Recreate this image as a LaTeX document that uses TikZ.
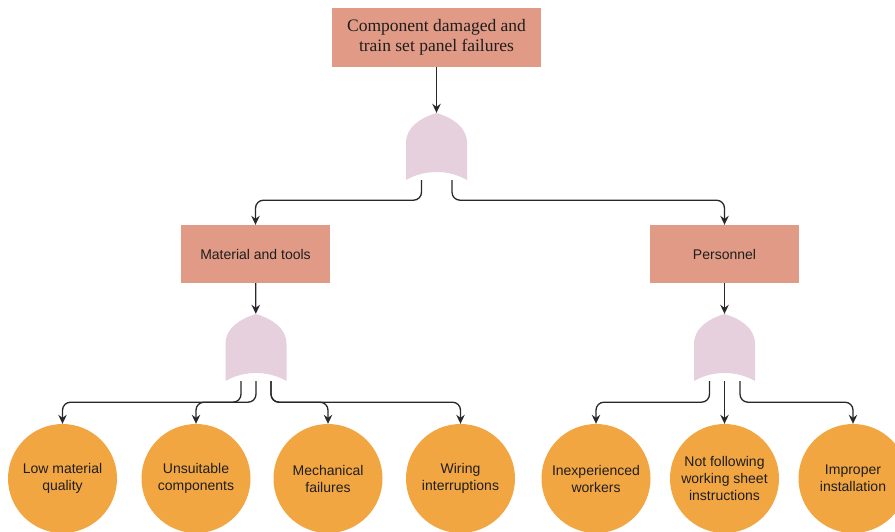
\documentclass[tikz,border=0pt]{standalone}
\usepackage{fontspec}
\setmainfont{Liberation Sans}
\newfontfamily\serifx{Liberation Serif}
\usetikzlibrary{arrows.meta,calc}
\definecolor{boxred}{RGB}{224,154,133}
\definecolor{gatepink}{RGB}{230,208,222}
\definecolor{circorange}{RGB}{242,166,66}
\definecolor{linegray}{RGB}{40,40,40}
\definecolor{txt}{RGB}{30,30,30}
\tikzset{
 evbox/.style={fill=boxred, draw=none, minimum width=149pt, minimum height=58pt, inner sep=0pt, font=\fontsize{14}{17}\selectfont, text=txt, align=center},
 gatebox/.style={minimum width=61pt, minimum height=67pt, inner sep=0pt},
 gatefill/.style={fill=gatepink},
 basic/.style={circle, fill=circorange, minimum size=109pt, inner sep=0pt, align=center, font=\fontsize{14}{17}\selectfont, text=txt},
 conn/.style={draw=linegray, line width=1.3pt, rounded corners=8pt, -{Stealth[length=9pt,width=8.5pt,inset=3pt]}}
}
\newcommand\orgate[3]{%
 \node[gatebox] (#1) at (#2,#3) {};
 \fill[gatefill] (#2-30.5,#3+33.5) -- (#2-30.5,#3-3.5) .. controls (#2-30.5,#3-20) and (#2-15,#3-29) .. (#2,#3-33.5) .. controls (#2+15,#3-29) and (#2+30.5,#3-20) .. (#2+30.5,#3-3.5) -- (#2+30.5,#3+33.5) .. controls (#2+12,#3+22.8) and (#2-12,#3+22.8) .. cycle;
}
\begin{document}
\begin{tikzpicture}[x=1pt,y=-1pt]
\clip (0,0) rectangle (895,531);
\node[evbox, minimum width=209pt, minimum height=59pt, font=\serifx\fontsize{17.5}{20}\selectfont] (top) at (436.5,37.5) {Component damaged and\\train set panel failures};
\orgate{g0}{436.5}{146.5}
\node[evbox] (mat) at (255.5,254) {Material and tools};
\node[evbox] (per) at (724.5,254) {Personnel};
\orgate{g1}{256}{347.5}
\orgate{g2}{724.5}{347.5}
\node[basic] (c1) at (62.5,478.5) {Low material\\quality};
\node[basic] (c2) at (196,478.5) {Unsuitable\\components};
\node[basic] (c3) at (328,478.5) {Mechanical\\failures};
\node[basic] (c4) at (460.5,478.5) {Wiring\\interruptions};
\node[basic] (c5) at (596,478.5) {Inexperienced\\workers};
\node[basic] (c6) at (724.5,478.5) {Not following\\working sheet\\instructions};
\node[basic] (c7) at (853,478.5) {Improper\\installation};
\draw[conn] (top) -- (g0);
\draw[conn] ([xshift=-15pt]g0.south) -- ++(0,20) -| (mat.north);
\draw[conn] ([xshift=15.5pt]g0.south) -- ++(0,20) -| (per.north);
\draw[conn] (mat) -- (g1);
\draw[conn] (per) -- (g2);
\draw[conn] ([xshift=-15pt]g1.south) -- ++(0,21) -| (c1.north);
\draw[conn] (g1.south) -- ++(0,21) -| (c2.north);
\draw[conn] ([xshift=15pt]g1.south) -- ++(0,21) -| (c3.north);
\draw[conn] ([xshift=15pt]g1.south) -- ++(0,21) -| (c4.north);
\draw[conn] ([xshift=-15pt]g2.south) -- ++(0,21) -| (c5.north);
\draw[conn] (g2.south) -- (c6.north);
\draw[conn] ([xshift=15.5pt]g2.south) -- ++(0,21) -| (c7.north);
\end{tikzpicture}
\end{document}
